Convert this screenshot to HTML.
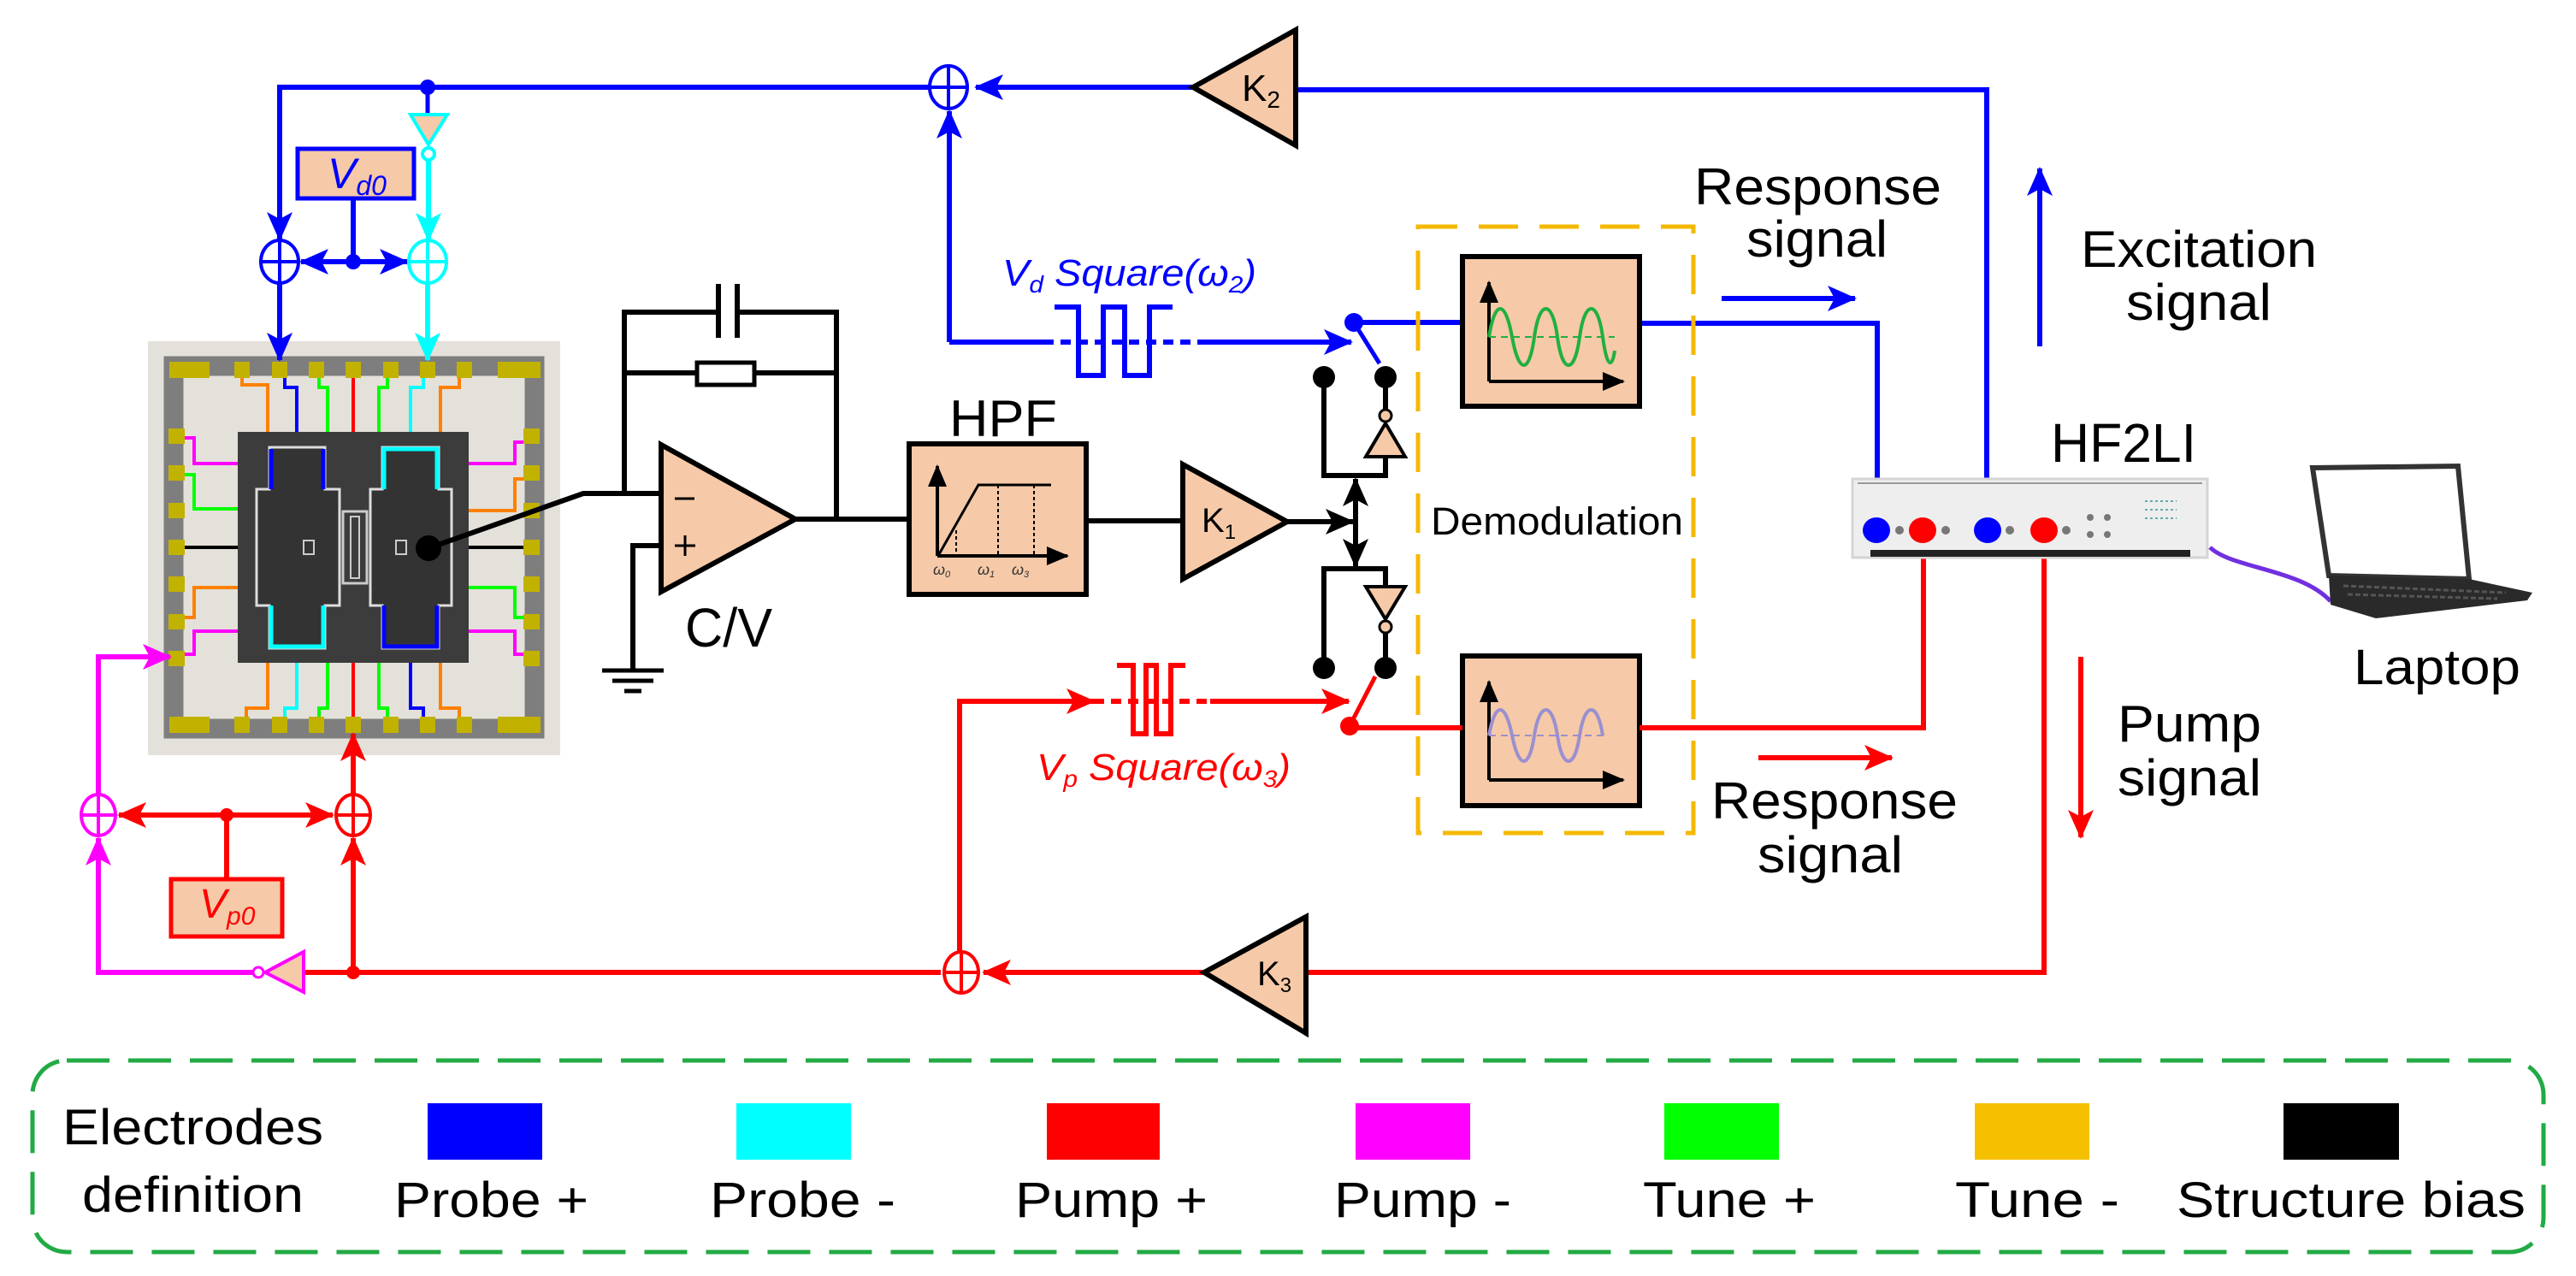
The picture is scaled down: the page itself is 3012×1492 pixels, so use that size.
<!DOCTYPE html>
<html><head><meta charset="utf-8"><style>
html,body{margin:0;padding:0;background:#fff;}
svg{display:block;font-family:"Liberation Sans",Arial,sans-serif;}
</style></head><body>
<svg width="3012" height="1492" viewBox="0 0 3012 1492" xmlns="http://www.w3.org/2000/svg">
<defs>
<marker id="aB" markerWidth="34" markerHeight="30" refX="32" refY="15" orient="auto" markerUnits="userSpaceOnUse"><path d="M0,0 L34,15 L0,30 L8,15z" fill="#0000ff"/></marker>
<marker id="aC" markerWidth="34" markerHeight="30" refX="32" refY="15" orient="auto" markerUnits="userSpaceOnUse"><path d="M0,0 L34,15 L0,30 L8,15z" fill="#00ffff"/></marker>
<marker id="aR" markerWidth="34" markerHeight="30" refX="32" refY="15" orient="auto" markerUnits="userSpaceOnUse"><path d="M0,0 L34,15 L0,30 L8,15z" fill="#ff0000"/></marker>
<marker id="aM" markerWidth="34" markerHeight="30" refX="32" refY="15" orient="auto" markerUnits="userSpaceOnUse"><path d="M0,0 L34,15 L0,30 L8,15z" fill="#ff00ff"/></marker>
<marker id="aK" markerWidth="34" markerHeight="30" refX="32" refY="15" orient="auto" markerUnits="userSpaceOnUse"><path d="M0,0 L34,15 L0,30 L8,15z" fill="#000"/></marker>
<marker id="aKs" markerWidth="26" markerHeight="22" refX="24" refY="11" orient="auto" markerUnits="userSpaceOnUse"><path d="M0,0 L26,11 L0,22z" fill="#000"/></marker>
</defs>

<!-- ================= CHIP ================= -->
<rect x="173" y="399" width="482" height="484" fill="#e4e1da"/>
<rect x="203" y="428" width="422" height="424" fill="none" stroke="#7e7e7e" stroke-width="23"/>
<g fill="#c2b200">
<rect x="198" y="423" width="47" height="19"/><rect x="582" y="423" width="50" height="19"/>
<rect x="198" y="838" width="47" height="19"/><rect x="582" y="838" width="50" height="19"/>
<rect x="274" y="423" width="18" height="19"/><rect x="318" y="423" width="18" height="19"/><rect x="361" y="423" width="18" height="19"/><rect x="404" y="423" width="18" height="19"/><rect x="448" y="423" width="18" height="19"/><rect x="491" y="423" width="18" height="19"/><rect x="534" y="423" width="18" height="19"/>
<rect x="274" y="838" width="18" height="19"/><rect x="318" y="838" width="18" height="19"/><rect x="361" y="838" width="18" height="19"/><rect x="404" y="838" width="18" height="19"/><rect x="448" y="838" width="18" height="19"/><rect x="491" y="838" width="18" height="19"/><rect x="534" y="838" width="18" height="19"/>
<rect x="197" y="501" width="19" height="18"/><rect x="197" y="544" width="19" height="18"/><rect x="197" y="588" width="19" height="18"/><rect x="197" y="631" width="19" height="18"/><rect x="197" y="674" width="19" height="18"/><rect x="197" y="718" width="19" height="18"/><rect x="197" y="761" width="19" height="18"/>
<rect x="612" y="501" width="19" height="18"/><rect x="612" y="544" width="19" height="18"/><rect x="612" y="588" width="19" height="18"/><rect x="612" y="631" width="19" height="18"/><rect x="612" y="674" width="19" height="18"/><rect x="612" y="718" width="19" height="18"/><rect x="612" y="761" width="19" height="18"/>
</g>
<g fill="none" stroke-width="4">
<path d="M283,442 V450 H313 V505" stroke="#ff8000"/>
<path d="M333,442 V453 H347 V505" stroke="#0000ff"/>
<path d="M373,442 V453 H383 V505" stroke="#00ff00"/>
<path d="M413,442 V505" stroke="#ff0000"/>
<path d="M453,442 V453 H443 V505" stroke="#00ff00"/>
<path d="M495,442 V453 H480 V505" stroke="#00ffff"/>
<path d="M537,442 V453 H515 V505" stroke="#ff8000"/>
<path d="M288,838 V828 H313 V775" stroke="#ff8000"/>
<path d="M333,838 V828 H347 V775" stroke="#00ffff"/>
<path d="M373,838 V828 H383 V775" stroke="#00ff00"/>
<path d="M413,838 V775" stroke="#ff0000"/>
<path d="M453,838 V828 H443 V775" stroke="#00ff00"/>
<path d="M495,838 V828 H480 V775" stroke="#0000ff"/>
<path d="M537,838 V828 H515 V775" stroke="#ff8000"/>
<path d="M216,512 H227 V542 H278" stroke="#ff00ff"/>
<path d="M216,555 H227 V595 H278" stroke="#00ff00"/>
<path d="M216,640 H278" stroke="#000"/>
<path d="M216,722 H227 V687 H278" stroke="#ff8000"/>
<path d="M216,765 H227 V738 H278" stroke="#ff00ff"/>
<path d="M612,517 H602 V542 H548" stroke="#ff00ff"/>
<path d="M612,560 H602 V597 H548" stroke="#ff8000"/>
<path d="M612,640 H548" stroke="#000"/>
<path d="M612,722 H602 V687 H548" stroke="#00ff00"/>
<path d="M612,765 H602 V738 H548" stroke="#ff00ff"/>
</g>
<rect x="278" y="505" width="270" height="270" fill="#3c3c3c"/>
<!-- left structure -->
<path d="M315,523 H380 V572 H397 V708 H380 V758 H315 V708 H300 V572 H315 Z" fill="#333" stroke="#ddd" stroke-width="3"/>
<path d="M317,525 V572 M378,525 V572" stroke="#0000ff" stroke-width="5"/>
<path d="M317,708 V756 H378 V708" stroke="#00ffff" stroke-width="5" fill="none"/>
<path d="M447,523 H513 V572 H528 V708 H513 V758 H447 V708 H433 V572 H447 Z" fill="#333" stroke="#ddd" stroke-width="3"/>
<path d="M449,572 V525 H511 V572" stroke="#00ffff" stroke-width="5" fill="none"/>
<path d="M449,708 V756 H511 V708" stroke="#0000ff" stroke-width="5" fill="none"/>
<rect x="401" y="598" width="28" height="84" fill="none" stroke="#ccc" stroke-width="3"/>
<rect x="410" y="604" width="10" height="72" fill="none" stroke="#ccc" stroke-width="2"/>
<rect x="355" y="632" width="12" height="16" fill="none" stroke="#ccc" stroke-width="2"/>
<rect x="463" y="632" width="12" height="16" fill="none" stroke="#ccc" stroke-width="2"/>
<circle cx="501" cy="641" r="15" fill="#000"/>

<!-- ================= BLUE TOP ================= -->
<g stroke="#0000ff" stroke-width="6" fill="none">
<path d="M1515,102 H1141" marker-end="url(#aB)"/>
<path d="M1086,102 H327 V280" marker-end="url(#aB)"/>
<path d="M413,233 V306"/>
<path d="M413,306 H352" marker-end="url(#aB)"/>
<path d="M413,306 H476" marker-end="url(#aB)"/>
<path d="M327,331 V421" marker-end="url(#aB)"/>
<path d="M1110,400 V130" marker-end="url(#aB)"/>
<path d="M1110,400 H1220"/>
<path d="M1220,400 H1404" stroke-dasharray="12 8"/>
<path d="M1404,400 H1580" marker-end="url(#aB)"/>
<path d="M1233,359 H1261 V439 H1290 V359 H1315 V439 H1344 V359 H1371"/>
<path d="M1583,377 H1710 M1917,378 H2195 V605 M1515,105 H2323 V605"/>
<path d="M1583,377 L1613,425" stroke-width="5"/>
<path d="M2013,349 H2169" marker-end="url(#aB)"/>
<path d="M2385,405 V197" marker-end="url(#aB)"/>
</g>
<g stroke="#0000ff" stroke-width="4" fill="#fff">
<ellipse cx="1109" cy="102" rx="22" ry="25"/><path d="M1087,102 H1131 M1109,77 V127"/>
<ellipse cx="327" cy="306" rx="22" ry="25"/><path d="M305,306 H349 M327,281 V331"/>
</g>
<g stroke="#00ffff" stroke-width="4" fill="#fff">
<ellipse cx="500" cy="306" rx="22" ry="25"/><path d="M478,306 H522 M500,281 V331"/>
</g>
<circle cx="500" cy="102" r="9" fill="#0000ff"/>
<circle cx="413" cy="306" r="9" fill="#0000ff"/>
<circle cx="1583" cy="377" r="11" fill="#0000ff"/>
<path d="M500,102 V134" stroke="#0000ff" stroke-width="5"/>
<path d="M480,134 H523 L501,169 Z" fill="#f6c9a8" stroke="#00ffff" stroke-width="4"/>
<circle cx="501" cy="180" r="7" fill="#fff" stroke="#00ffff" stroke-width="4"/>
<path d="M501,187 V281" stroke="#00ffff" stroke-width="6" marker-end="url(#aC)"/>
<path d="M500,331 V421" stroke="#00ffff" stroke-width="6" marker-end="url(#aC)"/>
<rect x="348" y="174" width="136" height="58" fill="#f6c9a8" stroke="#0000ff" stroke-width="5"/>
<text x="383" y="220" font-size="50" font-style="italic" fill="#0000ff">V<tspan font-size="32" dy="8">d0</tspan></text>
<text x="1172" y="334" font-size="44" font-style="italic" fill="#0000ff" textLength="297" lengthAdjust="spacingAndGlyphs">V<tspan font-size="28" dy="8">d</tspan><tspan dy="-8"> Square(ω</tspan><tspan font-size="28" dy="8">2</tspan><tspan dy="-8">)</tspan></text>

<!-- K2 -->
<path d="M1395,102 L1515,35 L1515,170 Z" fill="#f6c9a8" stroke="#000" stroke-width="6" stroke-linejoin="miter"/>
<text x="1452" y="118" font-size="44">K<tspan font-size="28" dy="8">2</tspan></text>

<!-- ================= C/V ================= -->
<g stroke="#000" stroke-width="6" fill="none">
<path d="M501,641 L682,577 H773"/>
<path d="M730,577 V365 H978 V607"/>
<path d="M730,436 H815 M882,436 H978"/>
<path d="M773,638 H740 V784"/>
<path d="M930,607 H1061"/>
<path d="M1270,609 H1383"/>
<path d="M1505,610 H1582" marker-end="url(#aK)"/>
</g>
<rect x="815" y="424" width="67" height="26" fill="#fff" stroke="#000" stroke-width="5"/>
<rect x="838" y="332" width="26" height="63" fill="#fff"/>
<path d="M840,332 V395 M862,332 V395" stroke="#000" stroke-width="6"/>
<path d="M704,784 H776 M716,796 H764 M730,808 H750" stroke="#000" stroke-width="5"/>
<path d="M773,520 L930,607 L773,692 Z" fill="#f6c9a8" stroke="#000" stroke-width="6"/>
<path d="M789,583 H812" stroke="#000" stroke-width="3"/>
<path d="M789,638 H813 M801,626 V650" stroke="#000" stroke-width="3"/>
<text x="801" y="756" font-size="64" textLength="102" lengthAdjust="spacingAndGlyphs">C/V</text>

<!-- HPF -->
<text x="1110" y="510" font-size="60" textLength="126" lengthAdjust="spacingAndGlyphs">HPF</text>
<rect x="1063" y="519" width="207" height="176" fill="#f6c9a8" stroke="#000" stroke-width="6"/>
<path d="M1096,650 V545" stroke="#000" stroke-width="4" marker-end="url(#aKs)"/>
<path d="M1096,650 H1248" stroke="#000" stroke-width="4" marker-end="url(#aKs)"/>
<path d="M1098,648 L1144,567 H1229" stroke="#000" stroke-width="3" fill="none"/>
<path d="M1118,620 V650 M1167,567 V650 M1209,567 V650" stroke="#000" stroke-width="2" stroke-dasharray="4 3"/>
<text x="1091" y="672" font-size="18" font-style="italic" fill="#333">ω<tspan font-size="11" dy="3">0</tspan></text>
<text x="1143" y="672" font-size="18" font-style="italic" fill="#333">ω<tspan font-size="11" dy="3">1</tspan></text>
<text x="1183" y="672" font-size="18" font-style="italic" fill="#333">ω<tspan font-size="11" dy="3">3</tspan></text>

<!-- K1 -->
<path d="M1383,543 L1505,610 L1383,677 Z" fill="#f6c9a8" stroke="#000" stroke-width="6"/>
<text x="1405" y="622" font-size="40">K<tspan font-size="24" dy="8">1</tspan></text>

<!-- switches -->
<g stroke="#000" stroke-width="6" fill="none">
<path d="M1548,441 V556 H1620 V534"/>
<path d="M1620,441 V478"/>
<path d="M1585,610 V560" marker-end="url(#aK)"/>
<path d="M1585,610 V662" marker-end="url(#aK)"/>
<path d="M1548,781 V665 H1620 V686"/>
<path d="M1620,741 V781"/>
</g>
<path d="M1597,534 H1643 L1620,495 Z" fill="#f6c9a8" stroke="#000" stroke-width="4"/>
<circle cx="1620" cy="486" r="7" fill="#f6c9a8" stroke="#000" stroke-width="3"/>
<path d="M1597,686 H1643 L1620,724 Z" fill="#f6c9a8" stroke="#000" stroke-width="4"/>
<circle cx="1620" cy="733" r="7" fill="#f6c9a8" stroke="#000" stroke-width="3"/>
<circle cx="1548" cy="441" r="13" fill="#000"/><circle cx="1620" cy="441" r="13" fill="#000"/>
<circle cx="1548" cy="781" r="13" fill="#000"/><circle cx="1620" cy="781" r="13" fill="#000"/>

<!-- Demod -->
<rect x="1658" y="265" width="322" height="709" fill="none" stroke="#f5b800" stroke-width="5" stroke-dasharray="46 25"/>
<rect x="1710" y="300" width="207" height="175" fill="#f6c9a8" stroke="#000" stroke-width="6"/>
<path d="M1741,446 V330" stroke="#000" stroke-width="4" marker-end="url(#aKs)"/>
<path d="M1741,446 H1898" stroke="#000" stroke-width="4" marker-end="url(#aKs)"/>
<path d="M1741,394 H1888" stroke="#20b040" stroke-width="2" stroke-dasharray="8 6"/>
<path d="M1741,394 C1748,350 1760,350 1768,394 S1788,438 1794,394 S1815,350 1821,394 S1841,438 1847,394 S1868,350 1874,394 S1886,425 1888,410" stroke="#20b040" stroke-width="4" fill="none"/>
<text x="1673" y="625" font-size="45" textLength="295" lengthAdjust="spacingAndGlyphs">Demodulation</text>
<rect x="1710" y="767" width="207" height="175" fill="#f6c9a8" stroke="#000" stroke-width="6"/>
<path d="M1741,912 V797" stroke="#000" stroke-width="4" marker-end="url(#aKs)"/>
<path d="M1741,912 H1898" stroke="#000" stroke-width="4" marker-end="url(#aKs)"/>
<path d="M1741,860 H1880" stroke="#9a90d0" stroke-width="2" stroke-dasharray="8 6"/>
<path d="M1741,860 C1748,820 1760,820 1768,860 S1788,900 1794,860 S1815,820 1821,860 S1841,900 1847,860 S1868,820 1874,860" stroke="#9a90d0" stroke-width="4" fill="none"/>

<!-- ================= RED ================= -->
<g stroke="#ff0000" stroke-width="6" fill="none">
<path d="M1122,1113 V820 H1279" marker-end="url(#aR)"/>
<path d="M1279,820 H1415" stroke-dasharray="12 8"/>
<path d="M1415,820 H1577" marker-end="url(#aR)"/>
<path d="M1306,778 H1325 V858 H1340 V778 H1352 V858 H1369 V778 H1386"/>
<path d="M1578,849 L1608,791" stroke-width="5"/>
<path d="M1578,851 H1710 M1917,851 H2249 V605"/>
<path d="M2390,605 V1137 H1527"/>
<path d="M1408,1137 H1150" marker-end="url(#aR)"/>
<path d="M1100,1137 H355"/>
<path d="M413,1137 V980" marker-end="url(#aR)"/>
<path d="M265,953 H139" marker-end="url(#aR)"/>
<path d="M265,953 H389" marker-end="url(#aR)"/>
<path d="M265,953 V1026"/>
<path d="M413,928 V858" marker-end="url(#aR)"/>
<path d="M2056,886 H2212" marker-end="url(#aR)"/>
<path d="M2433,768 V979" marker-end="url(#aR)"/>
</g>
<circle cx="1578" cy="849" r="11" fill="#ff0000"/>
<circle cx="413" cy="1137" r="8" fill="#ff0000"/>
<circle cx="265" cy="953" r="8" fill="#ff0000"/>
<g stroke="#ff0000" stroke-width="4" fill="#fff">
<ellipse cx="1124" cy="1137" rx="20" ry="24"/><path d="M1104,1137 H1144 M1124,1113 V1161"/>
<ellipse cx="413" cy="953" rx="20" ry="24"/><path d="M393,953 H433 M413,929 V977"/>
</g>
<g stroke="#ff00ff" stroke-width="4" fill="#fff">
<ellipse cx="115" cy="953" rx="20" ry="24"/><path d="M95,953 H135 M115,929 V977"/>
</g>
<path d="M355,1113 V1160 L310,1137 Z" fill="#f6c9a8" stroke="#ff00ff" stroke-width="4"/>
<circle cx="302" cy="1137" r="6" fill="#fff" stroke="#ff00ff" stroke-width="3"/>
<path d="M296,1137 H115 V980" stroke="#ff00ff" stroke-width="6" fill="none" marker-end="url(#aM)"/>
<path d="M115,928 V768 H199" stroke="#ff00ff" stroke-width="6" fill="none" marker-end="url(#aM)"/>
<rect x="200" y="1028" width="130" height="67" fill="#f6c9a8" stroke="#ff0000" stroke-width="5"/>
<text x="233" y="1073" font-size="48" font-style="italic" fill="#ff0000">V<tspan font-size="30" dy="8">p0</tspan></text>
<text x="1212" y="912" font-size="44" font-style="italic" fill="#ff0000" textLength="297" lengthAdjust="spacingAndGlyphs">V<tspan font-size="28" dy="8">p</tspan><tspan dy="-8"> Square(ω</tspan><tspan font-size="28" dy="8">3</tspan><tspan dy="-8">)</tspan></text>
<path d="M1408,1137 L1527,1072 L1527,1208 Z" fill="#f6c9a8" stroke="#000" stroke-width="6"/>
<text x="1470" y="1152" font-size="40">K<tspan font-size="24" dy="8">3</tspan></text>

<!-- ================= HF2LI / laptop ================= -->
<rect x="2166" y="560" width="415" height="92" fill="#eeeeee" stroke="#d4d4d4" stroke-width="3"/>
<path d="M2172,565 H2575" stroke="#999" stroke-width="2"/>
<rect x="2187" y="643" width="374" height="8" fill="#222"/>
<g fill="#777"><circle cx="2221" cy="620" r="5"/><circle cx="2275" cy="620" r="5"/><circle cx="2350" cy="620" r="5"/><circle cx="2416" cy="620" r="5"/><circle cx="2444" cy="605" r="4"/><circle cx="2464" cy="605" r="4"/><circle cx="2444" cy="625" r="4"/><circle cx="2464" cy="625" r="4"/></g>
<path d="M2508,586 H2545 M2508,596 H2545 M2508,606 H2545" stroke="#6aa" stroke-width="2" stroke-dasharray="3 3"/>
<ellipse cx="2194" cy="620" rx="16" ry="15" fill="#0000ff"/>
<ellipse cx="2248" cy="620" rx="16" ry="15" fill="#ff0000"/>
<ellipse cx="2324" cy="620" rx="16" ry="15" fill="#0000ff"/>
<ellipse cx="2390" cy="620" rx="16" ry="15" fill="#ff0000"/>
<text x="2398" y="540" font-size="64" textLength="170" lengthAdjust="spacingAndGlyphs">HF2LI</text>
<path d="M2584,640 C2610,665 2690,665 2725,703" stroke="#7030e0" stroke-width="5" fill="none"/>
<path d="M2704,547 L2874,545 L2887,677 L2723,673 Z" fill="#fff" stroke="#333" stroke-width="6"/>
<path d="M2723,673 L2887,677 L2961,693 L2955,702 L2778,723 L2725,707 Z" fill="#2a2a2a"/>
<path d="M2740,685 L2930,693 M2745,695 L2920,700" stroke="#555" stroke-width="3" stroke-dasharray="6 3"/>
<text x="2752" y="800" font-size="58" textLength="195" lengthAdjust="spacingAndGlyphs">Laptop</text>

<!-- labels -->
<g font-size="60">
<text x="1981" y="239" textLength="289" lengthAdjust="spacingAndGlyphs">Response</text>
<text x="2042" y="300" textLength="165" lengthAdjust="spacingAndGlyphs">signal</text>
<text x="2433" y="312" textLength="276" lengthAdjust="spacingAndGlyphs">Excitation</text>
<text x="2486" y="374" textLength="170" lengthAdjust="spacingAndGlyphs">signal</text>
<text x="2476" y="867" textLength="168" lengthAdjust="spacingAndGlyphs">Pump</text>
<text x="2476" y="930" textLength="168" lengthAdjust="spacingAndGlyphs">signal</text>
<text x="2001" y="957" textLength="288" lengthAdjust="spacingAndGlyphs">Response</text>
<text x="2055" y="1020" textLength="170" lengthAdjust="spacingAndGlyphs">signal</text>
</g>

<!-- ================= LEGEND ================= -->
<rect x="38" y="1240" width="2936" height="224" rx="40" fill="none" stroke="#22aa44" stroke-width="5" stroke-dasharray="50 22"/>
<rect x="500" y="1290" width="134" height="66" fill="#0000ff"/>
<rect x="861" y="1290" width="134" height="66" fill="#00ffff"/>
<rect x="1224" y="1290" width="132" height="66" fill="#ff0000"/>
<rect x="1585" y="1290" width="134" height="66" fill="#ff00ff"/>
<rect x="1946" y="1290" width="134" height="66" fill="#00ff00"/>
<rect x="2309" y="1290" width="134" height="66" fill="#f5c000"/>
<rect x="2670" y="1290" width="135" height="66" fill="#000"/>
<g font-size="58">
<text x="73" y="1338" textLength="305" lengthAdjust="spacingAndGlyphs">Electrodes</text>
<text x="96" y="1417" textLength="259" lengthAdjust="spacingAndGlyphs">definition</text>
<text x="461" y="1423" textLength="227" lengthAdjust="spacingAndGlyphs">Probe +</text>
<text x="830" y="1423" textLength="217" lengthAdjust="spacingAndGlyphs">Probe -</text>
<text x="1187" y="1423" textLength="225" lengthAdjust="spacingAndGlyphs">Pump +</text>
<text x="1560" y="1423" textLength="207" lengthAdjust="spacingAndGlyphs">Pump -</text>
<text x="1921" y="1423" textLength="202" lengthAdjust="spacingAndGlyphs">Tune +</text>
<text x="2286" y="1423" textLength="192" lengthAdjust="spacingAndGlyphs">Tune -</text>
<text x="2545" y="1423" textLength="408" lengthAdjust="spacingAndGlyphs">Structure bias</text>
</g>
</svg>
</body></html>
